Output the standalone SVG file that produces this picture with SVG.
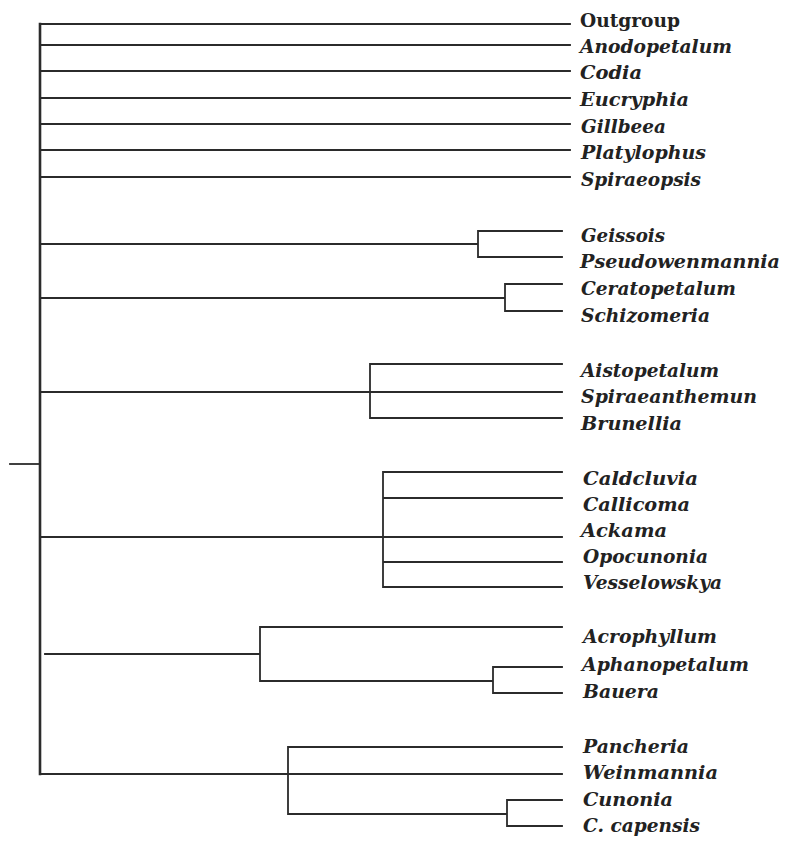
<svg xmlns="http://www.w3.org/2000/svg" width="787" height="848" viewBox="0 0 787 848">
<style>
.c{fill:none;stroke:#2b2b2b;stroke-width:1.8;stroke-linecap:square}
.m{stroke-width:2.6}
text{font-family:"DejaVu Serif","Liberation Serif",serif;font-size:18px;font-weight:bold;font-style:italic;fill:#222}
.up{font-style:normal}
</style>
<rect width="787" height="848" fill="#ffffff"/>
<g id="connectors">
<path class="c m" d="M40,24V774"/>
<path class="c" d="M10,464H40"/>
<path class="c" d="M40,24H570M40,45H570M40,71H570M40,98H570M40,124H570M40,150H570M40,177H570"/>
<path class="c" d="M40,244H478M562,231H478V257H562"/>
<path class="c" d="M40,298H505M562,284H505V311H562"/>
<path class="c" d="M40,392H562M562,364H370V418H562"/>
<path class="c" d="M40,537H562M562,472H383V587H562M383,498H562M383,562H562"/>
<path class="c" d="M45,654H260M562,627H260V681H493M562,667H493V693H562"/>
<path class="c" d="M40,774H562M562,747H288V814H507M562,800H507V826H562"/>
</g>
<g id="n-outgroup"><text class="up" x="580" y="27" textLength="100" lengthAdjust="spacingAndGlyphs">Outgroup</text></g>
<g id="n-anodopetalum"><text x="580" y="53" textLength="152" lengthAdjust="spacingAndGlyphs">Anodopetalum</text></g>
<g id="n-codia"><text x="580" y="79" textLength="62" lengthAdjust="spacingAndGlyphs">Codia</text></g>
<g id="n-eucryphia"><text x="580" y="106" textLength="109" lengthAdjust="spacingAndGlyphs">Eucryphia</text></g>
<g id="n-gillbeea"><text x="581" y="133" textLength="85" lengthAdjust="spacingAndGlyphs">Gillbeea</text></g>
<g id="n-platylophus"><text x="581" y="159" textLength="125" lengthAdjust="spacingAndGlyphs">Platylophus</text></g>
<g id="n-spiraeopsis"><text x="581" y="186" textLength="120" lengthAdjust="spacingAndGlyphs">Spiraeopsis</text></g>
<g id="n-geissois"><text x="581" y="242" textLength="84" lengthAdjust="spacingAndGlyphs">Geissois</text></g>
<g id="n-pseudowenmannia"><text x="580" y="268" textLength="200" lengthAdjust="spacingAndGlyphs">Pseudowenmannia</text></g>
<g id="n-ceratopetalum"><text x="581" y="295" textLength="155" lengthAdjust="spacingAndGlyphs">Ceratopetalum</text></g>
<g id="n-schizomeria"><text x="581" y="322" textLength="129" lengthAdjust="spacingAndGlyphs">Schizomeria</text></g>
<g id="n-aistopetalum"><text x="581" y="377" textLength="138" lengthAdjust="spacingAndGlyphs">Aistopetalum</text></g>
<g id="n-spiraeanthemun"><text x="581" y="403" textLength="176" lengthAdjust="spacingAndGlyphs">Spiraeanthemun</text></g>
<g id="n-brunellia"><text x="581" y="430" textLength="101" lengthAdjust="spacingAndGlyphs">Brunellia</text></g>
<g id="n-caldcluvia"><text x="583" y="485" textLength="115" lengthAdjust="spacingAndGlyphs">Caldcluvia</text></g>
<g id="n-callicoma"><text x="583" y="511" textLength="107" lengthAdjust="spacingAndGlyphs">Callicoma</text></g>
<g id="n-ackama"><text x="581" y="537" textLength="86" lengthAdjust="spacingAndGlyphs">Ackama</text></g>
<g id="n-opocunonia"><text x="583" y="563" textLength="125" lengthAdjust="spacingAndGlyphs">Opocunonia</text></g>
<g id="n-vesselowskya"><text x="583" y="589" textLength="139" lengthAdjust="spacingAndGlyphs">Vesselowskya</text></g>
<g id="n-acrophyllum"><text x="583" y="643" textLength="134" lengthAdjust="spacingAndGlyphs">Acrophyllum</text></g>
<g id="n-aphanopetalum"><text x="582" y="671" textLength="167" lengthAdjust="spacingAndGlyphs">Aphanopetalum</text></g>
<g id="n-bauera"><text x="583" y="698" textLength="76" lengthAdjust="spacingAndGlyphs">Bauera</text></g>
<g id="n-pancheria"><text x="583" y="753" textLength="106" lengthAdjust="spacingAndGlyphs">Pancheria</text></g>
<g id="n-weinmannia"><text x="583" y="779" textLength="135" lengthAdjust="spacingAndGlyphs">Weinmannia</text></g>
<g id="n-cunonia"><text x="583" y="806" textLength="90" lengthAdjust="spacingAndGlyphs">Cunonia</text></g>
<g id="n-ccapensis"><text x="583" y="832" textLength="117" lengthAdjust="spacingAndGlyphs">C. capensis</text></g>
</svg>
